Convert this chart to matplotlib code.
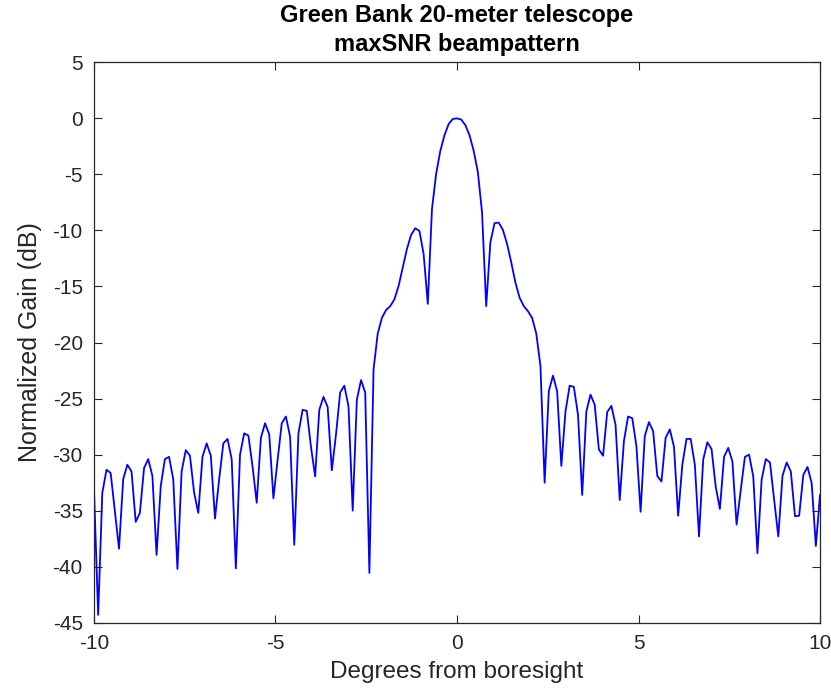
import numpy as np
import matplotlib

matplotlib.use("Agg")
import matplotlib.pyplot as plt  # noqa: E402

plt.rcParams["font.family"] = ["Liberation Sans", "DejaVu Sans"]
plt.rcParams["axes.unicode_minus"] = False

# 175 uniformly spaced samples from -10 to 10 degrees
n_points = 175
x_start, x_stop = -10.0, 10.0

gain_db = [
    -33.1, -44.3, -33.4, -31.35, -31.65, -35.0, -38.4, -32.2, -30.9, -31.5,
    -36.0, -35.2, -31.2, -30.4, -31.9, -38.95, -32.8, -30.4, -30.2, -32.2,
    -40.2, -31.5, -29.6, -30.1, -33.4, -35.2, -30.2, -29.0, -30.1, -35.7,
    -32.2, -29.0, -28.6, -30.4, -40.15, -30.0, -28.1, -28.3, -31.05, -34.3,
    -28.5, -27.2, -28.2, -33.9, -30.5, -27.2, -26.6, -28.4, -38.05, -28.1,
    -26.0, -26.1, -29.3, -31.95, -26.0, -24.85, -25.75, -31.4, -28.2, -24.45,
    -23.85, -25.7, -35.0, -25.1, -23.35, -24.45, -40.55, -22.4, -19.2, -17.8,
    -17.1, -16.75, -16.15, -14.95, -13.3, -11.65, -10.4, -9.8, -10.05, -12.1,
    -16.55, -8.1, -4.95, -2.9, -1.5, -0.5, -0.05, 0.0, -0.1, -0.6,
    -1.5, -2.9, -4.8, -8.4, -16.75, -11.05, -9.35, -9.3, -9.95, -11.2,
    -12.85, -14.65, -16.0, -16.75, -17.2, -17.8, -19.2, -22.1, -32.5, -24.35,
    -22.95, -24.35, -31.0, -26.15, -23.85, -23.95, -26.45, -33.6, -26.15, -24.65,
    -25.55, -29.55, -30.1, -26.2, -25.65, -27.35, -34.05, -28.8, -26.6, -26.75,
    -29.25, -35.1, -28.35, -27.1, -27.9, -31.9, -32.4, -28.5, -27.75, -29.3,
    -35.45, -30.9, -28.6, -28.6, -30.9, -37.3, -30.45, -28.9, -29.5, -32.85,
    -34.85, -30.2, -29.4, -30.6, -36.25, -33.15, -30.2, -30.0, -31.95, -38.8,
    -32.25, -30.4, -30.7, -34.0, -37.3, -31.9, -30.7, -31.5, -35.5, -35.45,
    -31.8, -31.1, -32.55, -38.15, -33.6,
]

x_ticks = [-10, -5, 0, 5, 10]
y_ticks = [5, 0, -5, -10, -15, -20, -25, -30, -35, -40, -45]

AX_COL = "#262626"

degrees = np.linspace(x_start, x_stop, n_points)

fig = plt.figure(figsize=(8.31, 6.91), dpi=100)
ax = fig.add_axes([0.1131, 0.0988, 0.8737, 0.811])
ax.plot(degrees, gain_db, color="#0000ff", lw=1.3)

ax.set_xlim(-10, 10)
ax.set_ylim(-45, 5)
ax.set_xticks(x_ticks)
ax.set_yticks(y_ticks)

ax.tick_params(direction="in", length=5.5, width=0.8, colors=AX_COL,
               labelsize=15, top=True, right=True)
ax.tick_params(axis="x", pad=8)
ax.tick_params(axis="y", pad=8)
for s in ax.spines.values():
    s.set_color(AX_COL)
    s.set_linewidth(0.9)

ax.set_xlabel("Degrees from boresight", fontsize=17.5, color=AX_COL, labelpad=6)
ax.set_ylabel("Normalized Gain (dB)", fontsize=18, color=AX_COL, labelpad=8)
ax.set_title("Green Bank 20-meter telescope\nmaxSNR beampattern",
             fontsize=17, fontweight="bold", linespacing=1.35, pad=8)

fig.savefig("out.png", dpi=100)
